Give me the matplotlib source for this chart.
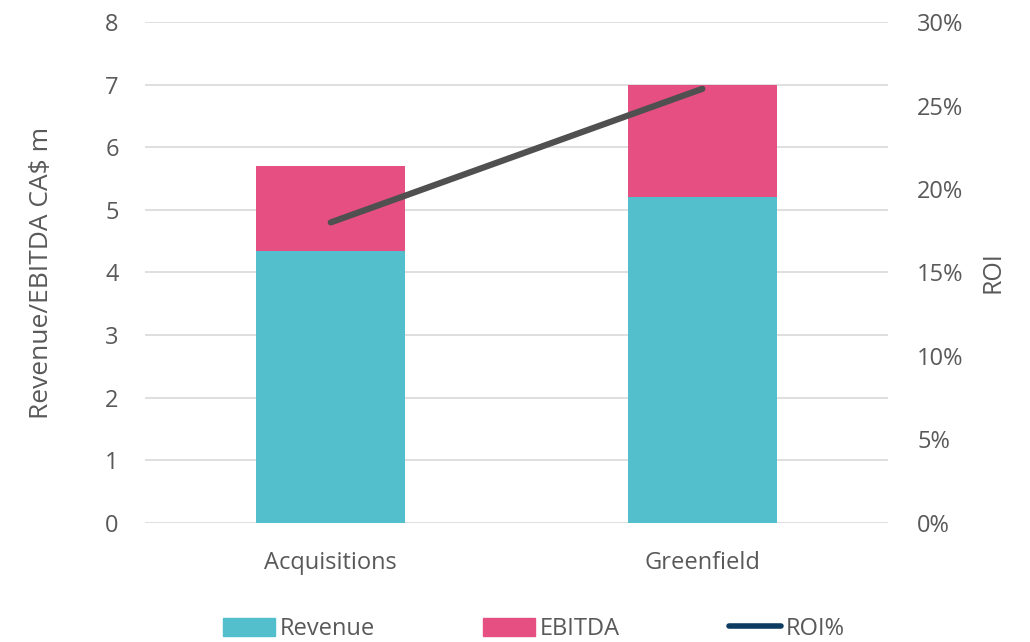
import matplotlib.pyplot as plt
from matplotlib.patches import Patch
from matplotlib.lines import Line2D

plt.rcParams['font.family'] = ['Open Sans', 'DejaVu Sans']

# data
categories = ["Acquisitions", "Greenfield"]
revenue = [4.35, 5.2]
ebitda = [1.35, 1.8]
roi = [18.0, 26.0]

left_ticks = [0, 1, 2, 3, 4, 5, 6, 7, 8]
right_ticks = [0, 5, 10, 15, 20, 25, 30]

teal = "#54BFCC"
pink = "#E64F82"
line_grey = "#505050"
navy = "#0E3B62"
text_grey = "#595959"

fig = plt.figure(figsize=(10.3, 6.42), dpi=100)
ax = fig.add_axes([0.1408, 0.1854, 0.7214, 0.7803])
ax2 = ax.twinx()

x = range(len(categories))
ax.bar(x, revenue, width=0.4, color=teal, zorder=2)
ax.bar(x, ebitda, width=0.4, bottom=revenue, color=pink, zorder=2)

ax.set_xlim(-0.5, 1.5)
ax.set_ylim(0, 8)
ax.set_yticks(left_ticks)
ax.set_xticks(list(x))
ax.set_xticklabels(categories)
ax.grid(axis='y', color="#d9d9d9", linewidth=1.2, zorder=0)
ax.set_axisbelow(True)
ax.set_ylabel("Revenue/EBITDA CA$ m", fontsize=19, color=text_grey, labelpad=37)

ax2.plot(list(x), roi, color=line_grey, linewidth=4.5, solid_capstyle='round', zorder=3)
ax2.set_ylim(0, 30)
ax2.set_yticks(right_ticks)
ax2.set_yticklabels([f"{t}%" for t in right_ticks])
ax2.set_ylabel("ROI", fontsize=18, color=text_grey, labelpad=12)

for a in (ax, ax2):
    for s in a.spines.values():
        s.set_visible(False)
    a.tick_params(length=0, labelsize=17, labelcolor=text_grey)
ax.tick_params(axis='y', pad=19)
ax.tick_params(axis='x', pad=20)
ax2.tick_params(axis='y', pad=21)

handles = [Patch(color=teal), Patch(color=pink),
           Line2D([0], [0], color=navy, linewidth=4, solid_capstyle='round')]
fig.legend(handles, ["Revenue", "EBITDA", "ROI%"], loc='upper center',
           bbox_to_anchor=(0.518, 0.065), ncol=3, frameon=False, fontsize=17,
           labelcolor=text_grey, handlelength=2.2, handleheight=0.8,
           handletextpad=0.2, columnspacing=4.6, borderpad=0.2)

fig.savefig("out.png", dpi=100)
